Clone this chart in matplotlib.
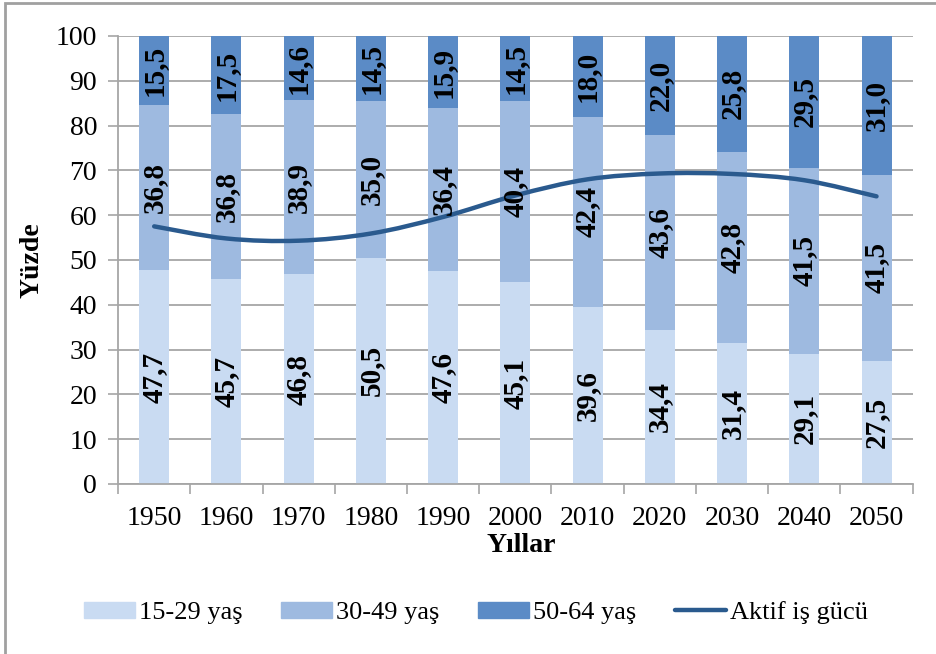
import matplotlib
matplotlib.use("Agg")
import matplotlib.pyplot as plt
from matplotlib.path import Path
from matplotlib.patches import PathPatch, Rectangle
from matplotlib.lines import Line2D
import numpy as np

plt.rcParams['font.family'] = ['Liberation Serif', 'DejaVu Serif']

# data
years = ['1950', '1960', '1970', '1980', '1990', '2000', '2010', '2020', '2030', '2040', '2050']
age_15_29 = [47.7, 45.7, 46.8, 50.5, 47.6, 45.1, 39.6, 34.4, 31.4, 29.1, 27.5]
age_30_49 = [36.8, 36.8, 38.9, 35.0, 36.4, 40.4, 42.4, 43.6, 42.8, 41.5, 41.5]
age_50_64 = [15.5, 17.5, 14.6, 14.5, 15.9, 14.5, 18.0, 22.0, 25.8, 29.5, 31.0]
aktif = [57.5, 54.8, 54.3, 55.9, 59.6, 64.4, 68.0, 69.3, 69.2, 67.8, 64.2]

c1 = '#C9DBF2'
c2 = '#9EBAE0'
c3 = '#5B8BC6'
cline = '#2A5A8E'
grid_c = '#A6A6A6'

fig = plt.figure(figsize=(9.37, 6.54), dpi=100)
ax = fig.add_axes([0.126, 0.26, 0.848, 0.685])

x = np.arange(len(years))
w = 0.415
b1 = ax.bar(x, age_15_29, w, color=c1, zorder=2)
b2 = ax.bar(x, age_30_49, w, bottom=age_15_29, color=c2, zorder=2)
bot3 = np.array(age_15_29) + np.array(age_30_49)
b3 = ax.bar(x, age_50_64, w, bottom=bot3, color=c3, zorder=2)

def fmt(vals):
    return [('%.1f' % v).replace('.', ',') for v in vals]

for bars, vals in [(b1, age_15_29), (b2, age_30_49), (b3, age_50_64)]:
    ax.bar_label(bars, labels=fmt(vals), label_type='center', rotation=90,
                 fontsize=21, fontweight='bold', color='black', zorder=5)

# smoothed line (Catmull-Rom style bezier through the points)
pts = np.column_stack([x, aktif]).astype(float)
ext = np.vstack([pts[0], pts, pts[-1]])
verts = [tuple(pts[0])]
codes = [Path.MOVETO]
for i in range(len(pts) - 1):
    p0, p1, p2, p3 = ext[i], ext[i + 1], ext[i + 2], ext[i + 3]
    verts += [tuple(p1 + (p2 - p0) / 6), tuple(p2 - (p3 - p1) / 6), tuple(p2)]
    codes += [Path.CURVE4] * 3
ax.add_patch(PathPatch(Path(verts, codes), fill=False, edgecolor=cline,
                       lw=3.2, capstyle='round', zorder=4))

ax.set_xlim(-0.5, len(years) - 0.5)
ax.set_ylim(0, 100)
ax.set_yticks(range(0, 101, 10))
ax.set_xticks(x)
ax.set_xticklabels(years)
ax.set_xticks(np.arange(-0.5, len(years), 1), minor=True)
ax.tick_params(axis='x', which='major', length=0, pad=16, labelsize=20)
ax.tick_params(axis='x', which='minor', length=7, width=1.2, color=grid_c)
ax.tick_params(axis='y', length=7, width=1.2, color=grid_c, pad=8, labelsize=20)

ax.yaxis.grid(True, color=grid_c, lw=1.3, zorder=0)
ax.set_axisbelow(True)
for s in ['top', 'right']:
    ax.spines[s].set_visible(False)
for s in ['left', 'bottom']:
    ax.spines[s].set_color(grid_c)
    ax.spines[s].set_linewidth(1.3)

ax.set_ylabel('Yüzde', fontsize=20, fontweight='bold')
ax.yaxis.set_label_coords(-0.093, 0.5)
ax.set_xlabel('Yıllar', fontsize=20, fontweight='bold')
ax.xaxis.set_label_coords(0.507, -0.11)

handles = [Rectangle((0, 0), 1, 1, color=c1), Rectangle((0, 0), 1, 1, color=c2),
           Rectangle((0, 0), 1, 1, color=c3),
           Line2D([], [], color=cline, lw=3.2, solid_capstyle='round')]
labels = ['15-29 yaş', '30-49 yaş', '50-64 yaş', 'Aktif iş gücü']
fig.legend(handles, labels, loc='center', bbox_to_anchor=(0.508, 0.063), ncol=4,
           frameon=False, fontsize=19, handlelength=1.95, handleheight=0.6,
           handletextpad=0.15, columnspacing=1.45)

# outer chart border
fig.patches.append(Rectangle((5 / 937, -0.05), 1.2, 1.05 - 3 / 654,
                             transform=fig.transFigure, fill=False,
                             edgecolor='#A0A0A0', lw=2))

fig.savefig('out.png', dpi=100)
